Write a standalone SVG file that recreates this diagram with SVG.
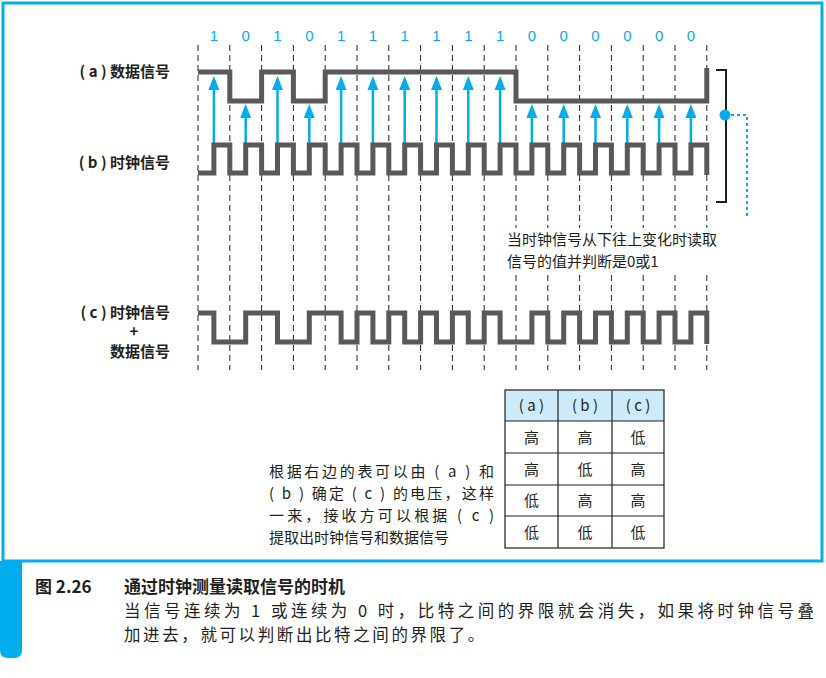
<svg xmlns="http://www.w3.org/2000/svg" width="826" height="678" viewBox="0 0 826 678">
<style>
text{font-family:"Noto Sans CJK SC","Liberation Sans",sans-serif;fill:#231f20}
.lbl{font-size:15px;font-weight:bold;text-anchor:end}
.bit{font-size:15px;fill:#00aeef;text-anchor:middle;font-family:"Liberation Sans","Noto Sans CJK SC",sans-serif}
.sig{fill:none;stroke:#58595b;stroke-width:5}
.dash{stroke:#231f20;stroke-width:1;stroke-dasharray:6,4}
.arr{stroke:#00aeef;stroke-width:2.5}
.ah{fill:#00aeef}
.t{font-size:15px}
.tc{font-size:15px;text-anchor:middle}
</style>
<defs>
<path id="h" d="M-5.5,14 L0,0 L5.5,14 Z"/>
</defs>
<rect x="0" y="0" width="826" height="678" fill="#fff"/>
<rect x="3" y="3" width="819" height="558" fill="none" stroke="#00aeef" stroke-width="3"/>
<path d="M0,561 H22 V650 Q22,658 14,658 H8 Q0,658 0,650 Z" fill="#00aeef"/>
<g id="grid">
<path class="dash" d="M198,45V370M229.8,45V370M261.6,45V370M293.4,45V370M325.2,45V370M357,45V370M388.8,45V370M420.6,45V370M452.4,45V370M484.2,45V370M516,45V370M547.8,45V370M579.6,45V370M611.4,45V370M643.2,45V370M675,45V370M706.8,45V370"/>
</g>
<g id="bits">
<text class="bit" x="213.9" y="41">1</text><text class="bit" x="245.7" y="41">0</text><text class="bit" x="277.5" y="41">1</text><text class="bit" x="309.3" y="41">0</text><text class="bit" x="341.1" y="41">1</text><text class="bit" x="372.9" y="41">1</text><text class="bit" x="404.7" y="41">1</text><text class="bit" x="436.5" y="41">1</text><text class="bit" x="468.3" y="41">1</text><text class="bit" x="500.1" y="41">1</text><text class="bit" x="531.9" y="41">0</text><text class="bit" x="563.7" y="41">0</text><text class="bit" x="595.5" y="41">0</text><text class="bit" x="627.3" y="41">0</text><text class="bit" x="659.1" y="41">0</text><text class="bit" x="690.9" y="41">0</text>
</g>
<g id="labels">
<text class="lbl" x="170" y="77">( a ) 数据信号</text>
<text class="lbl" x="170" y="168">( b ) 时钟信号</text>
<text class="lbl" x="170" y="318">( c ) 时钟信号</text>
<text class="lbl" x="134" y="337" style="text-anchor:middle">+</text>
<text class="lbl" x="170" y="357">数据信号</text>
</g>
<g id="connectors">
<path class="arr" d="M213.9,145V85M245.7,145V113M277.5,145V85M309.3,145V113M341.1,145V85M372.9,145V85M404.7,145V85M436.5,145V85M468.3,145V85M500.1,145V85M531.9,145V113M563.7,145V113M595.5,145V113M627.3,145V113M659.1,145V113M690.9,145V113"/>
<g class="ah">
<use href="#h" x="213.9" y="76"/><use href="#h" x="245.7" y="104"/><use href="#h" x="277.5" y="76"/><use href="#h" x="309.3" y="104"/><use href="#h" x="341.1" y="76"/><use href="#h" x="372.9" y="76"/><use href="#h" x="404.7" y="76"/><use href="#h" x="436.5" y="76"/><use href="#h" x="468.3" y="76"/><use href="#h" x="500.1" y="76"/><use href="#h" x="531.9" y="104"/><use href="#h" x="563.7" y="104"/><use href="#h" x="595.5" y="104"/><use href="#h" x="627.3" y="104"/><use href="#h" x="659.1" y="104"/><use href="#h" x="690.9" y="104"/>
</g>
<path d="M716,70H726V202H716" fill="none" stroke="#231f20" stroke-width="2"/>
<circle cx="725" cy="115" r="5.5" fill="#00aeef"/>
<path d="M731,115H747V216" fill="none" stroke="#00aeef" stroke-width="2" stroke-dasharray="3,3"/>
</g>
<g id="signals">
<path id="sigA" class="sig" d="M198,72 H229.8 V101 H261.6 V72 H293.4 V101 H325.2 V72 H516 V101 H706.8 V68"/>
<path id="sigB" class="sig" d="M198,173 H213.9 V145 H229.8 V173 H245.7 V145 H261.6 V173 H277.5 V145 H293.4 V173 H309.3 V145 H325.2 V173 H341.1 V145 H357 V173 H372.9 V145 H388.8 V173 H404.7 V145 H420.6 V173 H436.5 V145 H452.4 V173 H468.3 V145 H484.2 V173 H500.1 V145 H516 V173 H531.9 V145 H547.8 V173 H563.7 V145 H579.6 V173 H595.5 V145 H611.4 V173 H627.3 V145 H643.2 V173 H659.1 V145 H675 V173 H690.9 V145 H706.8 V175"/>
<path id="sigC" class="sig" d="M198,313 H213.9 V342 H245.7 V313 H277.5 V342 H309.3 V313 H341.1 V342 H357 V313 H372.9 V342 H388.8 V313 H404.7 V342 H420.6 V313 H436.5 V342 H452.4 V313 H468.3 V342 H484.2 V313 H500.1 V342 H531.9 V313 H547.8 V342 H563.7 V313 H579.6 V342 H595.5 V313 H611.4 V342 H627.3 V313 H643.2 V342 H659.1 V313 H675 V342 H690.9 V313 H706.8 V344"/>
</g>
<g id="note">
<rect x="503" y="228" width="250" height="44" fill="#fff"/>
<text class="t" x="507" y="245">当时钟信号从下往上变化时读取</text>
<text class="t" x="507" y="267">信号的值并判断是0或1</text>
</g>
<g id="table">
<rect x="505" y="390" width="159" height="31" fill="#cdeaf8"/>
<rect x="505" y="390" width="159" height="158" fill="none" stroke="#231f20" stroke-width="1.2"/>
<path d="M558,390V548M612,390V548M505,421H664M505,453H664M505,485H664M505,516H664" stroke="#231f20" stroke-width="1.2"/>
<text class="tc" x="531.5" y="411">( a )</text><text class="tc" x="585" y="411">( b )</text><text class="tc" x="638" y="411">( c )</text>
<text class="tc" x="531.5" y="443">高</text><text class="tc" x="585" y="443">高</text><text class="tc" x="638" y="443">低</text>
<text class="tc" x="531.5" y="475">高</text><text class="tc" x="585" y="475">低</text><text class="tc" x="638" y="475">高</text>
<text class="tc" x="531.5" y="506">低</text><text class="tc" x="585" y="506">高</text><text class="tc" x="638" y="506">高</text>
<text class="tc" x="531.5" y="538">低</text><text class="tc" x="585" y="538">低</text><text class="tc" x="638" y="538">低</text>
</g>
<g id="desc">
<text class="t" x="269" y="477" textLength="225">根据右边的表可以由 ( a ) 和</text>
<text class="t" x="269" y="499" textLength="225">( b ) 确定 ( c ) 的电压，这样</text>
<text class="t" x="269" y="521" textLength="225">一来，接收方可以根据 ( c )</text>
<text class="t" x="269" y="543">提取出时钟信号和数据信号</text>
</g>
<g id="caption">
<text x="35" y="593" style="font-size:17px;font-weight:bold">图 2.26</text>
<text x="124" y="593" style="font-size:17px;font-weight:bold">通过时钟测量读取信号的时机</text>
<text x="124" y="617" style="font-size:16.5px" textLength="690">当信号连续为 1 或连续为 0 时，比特之间的界限就会消失，如果将时钟信号叠</text>
<text x="124" y="641" style="font-size:16.5px;letter-spacing:2.6px">加进去，就可以判断出比特之间的界限了。</text>
</g>
</svg>
